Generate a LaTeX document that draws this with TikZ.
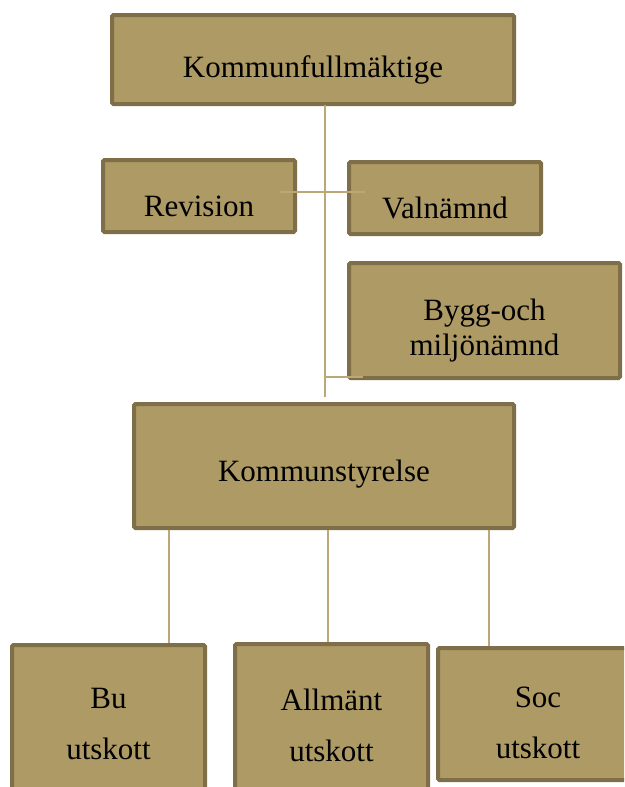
\documentclass[tikz,border=0pt]{standalone}
\usepackage{fontspec}
\setmainfont{Liberation Serif}
\usetikzlibrary{calc}
\definecolor{boxfill}{HTML}{AE9A65}
\definecolor{boxline}{HTML}{7E6F48}
\definecolor{connline}{HTML}{BCA877}
\tikzset{
  orgbox/.style={draw=boxline, fill=boxfill, line width=4pt, rounded corners=1.5pt,
    inner sep=0pt},
  boxtext/.style={align=center, text=black, yshift=-10pt, inner sep=0pt,
    font=\fontsize{31}{35}\selectfont},
  talltext/.style={boxtext, font=\fontsize{31}{51}\selectfont},
  conn/.style={draw=connline, line width=1.8pt}
}
\begin{document}
\begin{tikzpicture}[x=1pt, y=-1pt]
\useasboundingbox (0,0) rectangle (624,787);
\clip (0,0) rectangle (624,787);
% boxes
\node[orgbox, minimum width=402pt, minimum height=89pt,
  label={[boxtext]center:Kommunfullmäktige}] (kf) at (313,59.5) {};
\node[orgbox, minimum width=192pt, minimum height=72pt,
  label={[boxtext]center:Revision}] (rev) at (199,196) {};
\node[orgbox, minimum width=192pt, minimum height=72pt,
  label={[boxtext]center:Valnämnd}] (val) at (445,198) {};
\node[orgbox, minimum width=271pt, minimum height=115pt,
  label={[boxtext]center:Bygg-och\\miljönämnd}] (byg) at (484.5,320.5) {};
\node[orgbox, minimum width=380pt, minimum height=124pt,
  label={[boxtext, yshift=2pt]center:Kommunstyrelse}] (ks) at (324,466) {};
\node[orgbox, minimum width=193pt, minimum height=145pt,
  label={[talltext, yshift=4pt]center:Bu\\utskott}] (bu) at (108.5,717.5) {};
\node[orgbox, minimum width=193pt, minimum height=146pt,
  label={[talltext, yshift=2pt]center:Allmänt\\utskott}] (allm) at (331.5,717) {};
\node[orgbox, minimum width=200pt, minimum height=132pt,
  label={[talltext, yshift=1pt]center:Soc\\utskott}] (soc) at (538,714) {};
% junction coordinates
\coordinate (spine) at (325,192);
\coordinate (bj) at (325,377);
\coordinate (d1) at (169,0);
\coordinate (d2) at (328,0);
\coordinate (d3) at (489,0);
% connectors
\draw[conn] ($(kf.south -| spine)+(0,-1)$) -- ($(ks.north -| spine)+(0,-5)$);
\draw[conn] ($(spine -| rev.east)+(-17,0)$) -- ($(spine -| val.west)+(18,0)$);
\draw[conn] (bj) -- ($(bj -| byg.west)+(16,0)$);
\draw[conn] (ks.south -| d1) -- (bu.north -| d1);
\draw[conn] (ks.south -| d2) -- (allm.north -| d2);
\draw[conn] (ks.south -| d3) -- (soc.north -| d3);
\end{tikzpicture}
\end{document}
